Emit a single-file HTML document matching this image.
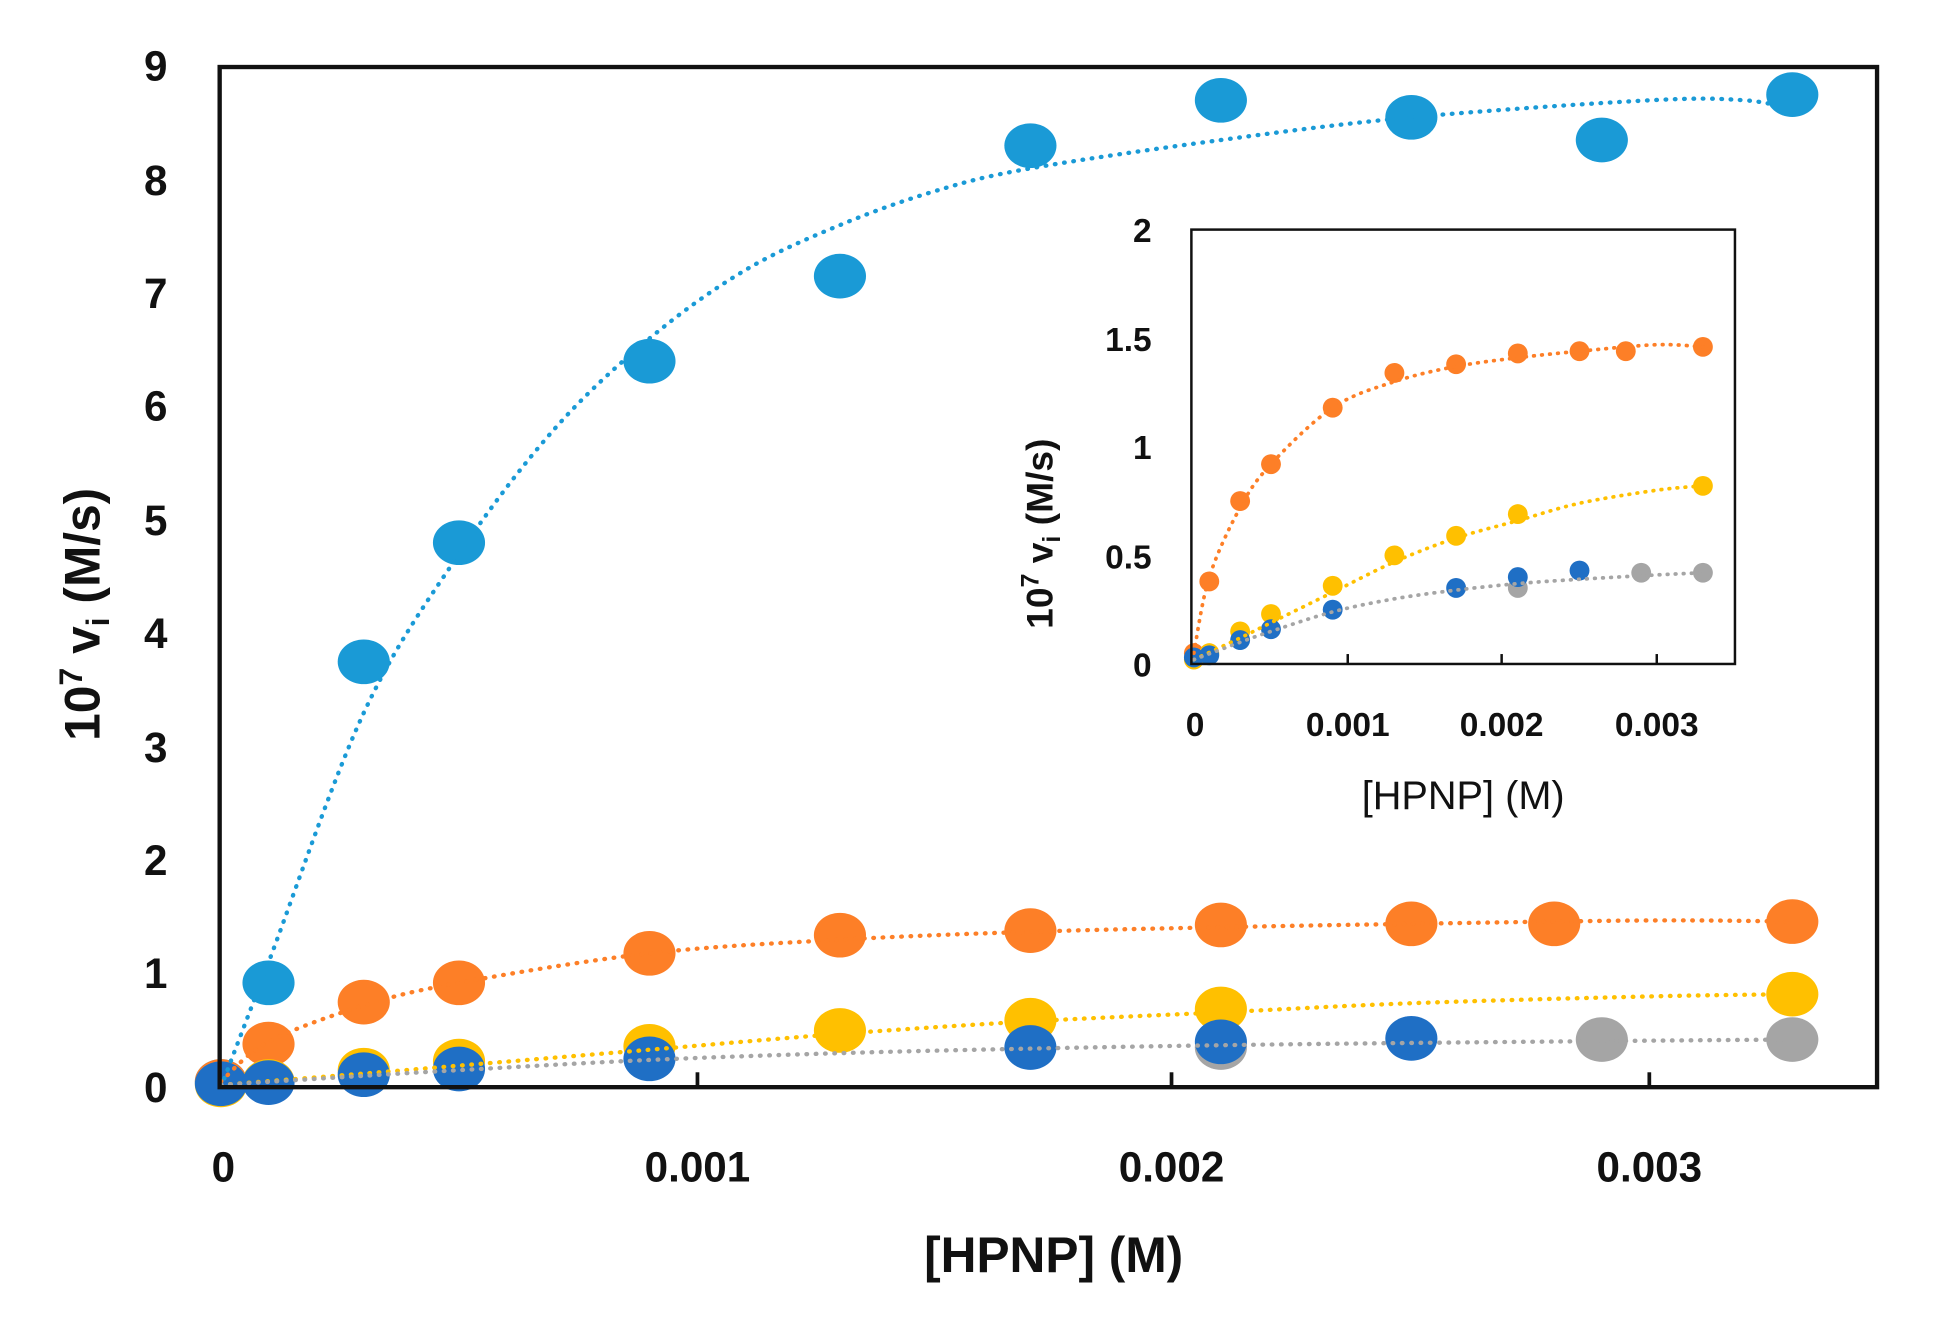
<!DOCTYPE html>
<html><head><meta charset="utf-8"><style>
html,body{margin:0;padding:0;background:#fff}
svg{display:block}
text{font-family:"Liberation Sans",sans-serif;font-weight:bold;fill:#111}
</style></head><body>
<svg id="s" width="1936" height="1320" viewBox="0 0 1560 1063.6" preserveAspectRatio="none" xmlns="http://www.w3.org/2000/svg">
<rect width="1560" height="1064" fill="#fff"/>
<g id="main"></g>
<g stroke="#111" stroke-width="3">
<line x1="562" y1="876" x2="562" y2="864"/><line x1="944" y1="876" x2="944" y2="864"/><line x1="1329" y1="876" x2="1329" y2="864"/>
</g>
<rect x="177" y="54" width="1335.5" height="822" fill="none" stroke="#111" stroke-width="3.5"/>
<g font-size="34" text-anchor="end">
<text x="135" y="888">0</text><text x="135" y="796">1</text><text x="135" y="705">2</text>
<text x="135" y="614">3</text><text x="135" y="522">4</text><text x="135" y="431">5</text>
<text x="135" y="339">6</text><text x="135" y="248">7</text><text x="135" y="157">8</text><text x="135" y="65">9</text>
</g>
<g font-size="34" text-anchor="middle">
<text x="180" y="952">0</text><text x="562" y="952">0.001</text><text x="944" y="952">0.002</text><text x="1329" y="952">0.003</text>
</g>
<text x="849" y="1025" font-size="40" text-anchor="middle">[HPNP] (M)</text>
<text transform="translate(80,495) rotate(-90)" font-size="40" text-anchor="middle">10<tspan font-size="26" dy="-14">7</tspan><tspan dy="14"> v</tspan><tspan font-size="26" dy="8">i</tspan><tspan dy="-8"> (M/s)</tspan></text>
<rect x="960" y="185" width="438" height="350" fill="#fff" stroke="none"/>
<g id="inset"></g>
<g stroke="#111" stroke-width="2">
<line x1="1086" y1="535" x2="1086" y2="527"/><line x1="1210" y1="535" x2="1210" y2="527"/><line x1="1335" y1="535" x2="1335" y2="527"/>
</g>
<rect x="960" y="185" width="438" height="350" fill="none" stroke="#111" stroke-width="2"/>
<g font-size="27" text-anchor="end">
<text x="928" y="545">0</text><text x="928" y="458">0.5</text><text x="928" y="370">1</text><text x="928" y="283">1.5</text><text x="928" y="195">2</text>
</g>
<g font-size="27" text-anchor="middle">
<text x="963" y="593">0</text><text x="1086" y="593">0.001</text><text x="1210" y="593">0.002</text><text x="1335" y="593">0.003</text>
</g>
<text x="1179" y="652" font-size="32" text-anchor="middle" style="font-weight:normal">[HPNP] (M)</text>
<text transform="translate(848,430) rotate(-90)" font-size="30" text-anchor="middle">10<tspan font-size="20" dy="-11">7</tspan><tspan dy="11"> v</tspan><tspan font-size="20" dy="6">i</tspan><tspan dy="-6"> (M/s)</tspan></text>
</svg>
<script>
var NS="http://www.w3.org/2000/svg";
var C={lb:"#1a9ad6",or:"#fd7f27",ye:"#ffc000",db:"#1f6fc5",gr:"#a5a5a5"};
var pts={
 lb:[[0,0.05],[0.1,0.92],[0.3,3.75],[0.5,4.8],[0.9,6.4],[1.3,7.15],[1.7,8.3],[2.1,8.7],[2.5,8.55],[2.9,8.35],[3.3,8.75]],
 or:[[0,0.05],[0.1,0.38],[0.3,0.75],[0.5,0.92],[0.9,1.18],[1.3,1.34],[1.7,1.38],[2.1,1.43],[2.5,1.44],[2.8,1.44],[3.3,1.46]],
 ye:[[0,0.02],[0.1,0.05],[0.3,0.15],[0.5,0.23],[0.9,0.36],[1.3,0.5],[1.7,0.59],[2.1,0.69],[3.3,0.82]],
 gr:[[2.1,0.35],[2.9,0.42],[3.3,0.42]],
 db:[[0,0.03],[0.1,0.04],[0.3,0.11],[0.5,0.16],[0.9,0.25],[1.7,0.35],[2.1,0.4],[2.5,0.43]]
};
var curves={
 lb:[[0,0],[0.1,1.1],[0.3,3.3],[0.5,4.7],[0.7,5.8],[0.9,6.6],[1.1,7.2],[1.3,7.6],[1.5,7.9],[1.7,8.1],[2.1,8.35],[2.5,8.55],[3.0,8.7],[3.2,8.7],[3.3,8.62]],
 or:[[0,0.05],[0.1,0.4],[0.3,0.72],[0.5,0.92],[0.9,1.18],[1.3,1.3],[1.7,1.37],[2.1,1.41],[2.5,1.44],[3.0,1.47],[3.3,1.46]],
 ye:[[0,0.02],[0.3,0.12],[0.5,0.19],[0.9,0.33],[1.3,0.47],[1.7,0.58],[2.1,0.66],[2.5,0.74],[3.0,0.8],[3.3,0.82]],
 gr:[[0,0.02],[0.3,0.1],[0.5,0.15],[0.9,0.24],[1.3,0.3],[1.7,0.34],[2.1,0.37],[2.5,0.39],[3.0,0.41],[3.3,0.42]]
};
function path(p,fx,fy){var q=p.map(function(a){return[fx(a[0]),fy(a[1])]});var d="M"+q[0][0]+","+q[0][1];
 for(var i=0;i<q.length-1;i++){var p0=q[Math.max(0,i-1)],p1=q[i],p2=q[i+1],p3=q[Math.min(q.length-1,i+2)];
 d+=" C"+(p1[0]+(p2[0]-p0[0])/6)+","+(p1[1]+(p2[1]-p0[1])/6)+" "+(p2[0]-(p3[0]-p1[0])/6)+","+(p2[1]-(p3[1]-p1[1])/6)+" "+p2[0]+","+p2[1];}return d;}
function draw(g,fx,fy,rx,ry,sw,dash,keys){
 var order=["lb","or","ye","gr","db"];
 order.forEach(function(k){if(keys.indexOf(k)<0)return;pts[k].forEach(function(a){var e=document.createElementNS(NS,"ellipse");
  e.setAttribute("cx",fx(a[0]));e.setAttribute("cy",fy(a[1]));e.setAttribute("rx",rx);e.setAttribute("ry",ry);e.setAttribute("fill",C[k]);g.appendChild(e);});});
 ["lb","or","ye","gr"].forEach(function(k){if(keys.indexOf(k)<0)return;var p=document.createElementNS(NS,"path");
  p.setAttribute("d",path(curves[k],fx,fy));p.setAttribute("fill","none");p.setAttribute("stroke",C[k]);p.setAttribute("stroke-width",sw);
  p.setAttribute("stroke-dasharray",dash);p.setAttribute("stroke-linecap","round");g.appendChild(p);});
}
draw(document.getElementById("main"),function(x){return 178+x*383.7},function(y){return 876-y*91.4},21,18,3.5,"0.5 7",["lb","or","ye","gr","db"]);
draw(document.getElementById("inset"),function(x){return 962+x*124.3},function(y){return 535-y*175},8,8,3,"0.5 6",["or","ye","gr","db"]);
</script>
</body></html>
